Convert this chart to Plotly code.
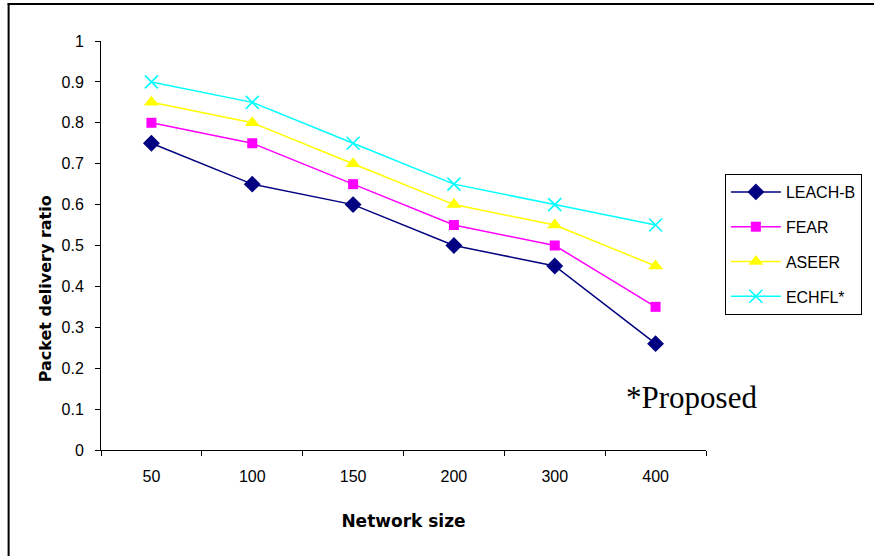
import plotly.graph_objects as go

categories = ["50", "100", "150", "200", "300", "400"]
leach_b = [0.75, 0.65, 0.60, 0.50, 0.45, 0.26]
fear = [0.80, 0.75, 0.65, 0.55, 0.50, 0.35]
aseer = [0.85, 0.80, 0.70, 0.60, 0.55, 0.45]
echfl = [0.90, 0.85, 0.75, 0.65, 0.60, 0.55]
y_ticks = [0, 0.1, 0.2, 0.3, 0.4, 0.5, 0.6, 0.7, 0.8, 0.9, 1]
y_tick_labels = ["0", "0.1", "0.2", "0.3", "0.4", "0.5", "0.6", "0.7", "0.8", "0.9", "1"]

W, H = 874, 556
L, R, T, B = 101, 164, 41, 106
pw, ph = W - L - R, H - T - B

def px_x(x):
    return (x - L) / pw

def px_y(y):
    return (H - B - y) / ph

sans = "Liberation Sans, Arial"
bold_font = "DejaVu Sans, Liberation Sans"

series = [
    ("LEACH-B", leach_b, "#000080", dict(symbol="diamond", size=13, color="#000080")),
    ("FEAR", fear, "#FF00FF", dict(symbol="square", size=10, color="#FF00FF")),
    ("ASEER", aseer, "#FFFF00", dict(symbol="triangle-up", size=13, color="#FFFF00")),
    ("ECHFL*", echfl, "#00FFFF", dict(symbol="x-thin-open", size=13, color="#00FFFF",
                                      line=dict(color="#00FFFF", width=1.6))),
]

fig = go.Figure()
for i, (name, vals, col, mk) in enumerate(series):
    fig.add_trace(go.Scatter(
        x=categories, y=vals, name=name, mode="lines+markers",
        line=dict(color=col, width=1.5), marker=mk, legendgroup=str(i),
    ))

fig.update_layout(
    width=W, height=H,
    margin=dict(l=L, r=R, t=T, b=B),
    paper_bgcolor="white", plot_bgcolor="white",
    font=dict(family=sans, size=16, color="black"),
    showlegend=True,
    legend=dict(
        x=px_x(729), y=px_y(174), xanchor="left", yanchor="top",
        bordercolor="black", borderwidth=1, bgcolor="white",
        font=dict(family=sans, size=16, color="black"),
        tracegroupgap=11, itemwidth=50,
    ),
    xaxis=dict(
        type="category", range=[-0.5, 5.5], tickson="boundaries",
        ticks="outside", ticklen=5, tickcolor="black",
        showline=True, linecolor="black", linewidth=1,
        showgrid=False, zeroline=False,
        tickfont=dict(family=sans, size=16),
        ticklabelstandoff=12,
        title=dict(text="<b>Network size</b>", font=dict(family=bold_font, size=17), standoff=30),
    ),
    yaxis=dict(
        range=[0, 1], tickvals=y_ticks, ticktext=y_tick_labels,
        ticks="outside", ticklen=5, tickcolor="black",
        showline=True, linecolor="black", linewidth=1,
        showgrid=False, zeroline=False,
        tickfont=dict(family=sans, size=16),
        ticklabelstandoff=8,
    ),
    shapes=[
        dict(type="line", xref="paper", yref="paper",
             x0=px_x(8), x1=px_x(8), y0=px_y(3), y1=px_y(560),
             line=dict(color="black", width=2)),
        dict(type="line", xref="paper", yref="paper",
             x0=px_x(7), x1=px_x(880), y0=px_y(4), y1=px_y(4),
             line=dict(color="black", width=2)),
    ],
    annotations=[
        dict(text="<b>Packet delivery ratio</b>", xref="paper", yref="paper",
             x=px_x(45), y=px_y(289), xanchor="center", yanchor="middle", textangle=-90,
             showarrow=False, font=dict(family=bold_font, size=16, color="black")),
        dict(text="*Proposed", xref="paper", yref="paper",
             x=px_x(627), y=px_y(397), xanchor="left", yanchor="middle",
             showarrow=False, font=dict(family="Liberation Serif, Times New Roman", size=31, color="black")),
    ],
)

fig.write_html("out.html", config={"displayModeBar": False},
               post_script="document.body.style.margin='0px';")
